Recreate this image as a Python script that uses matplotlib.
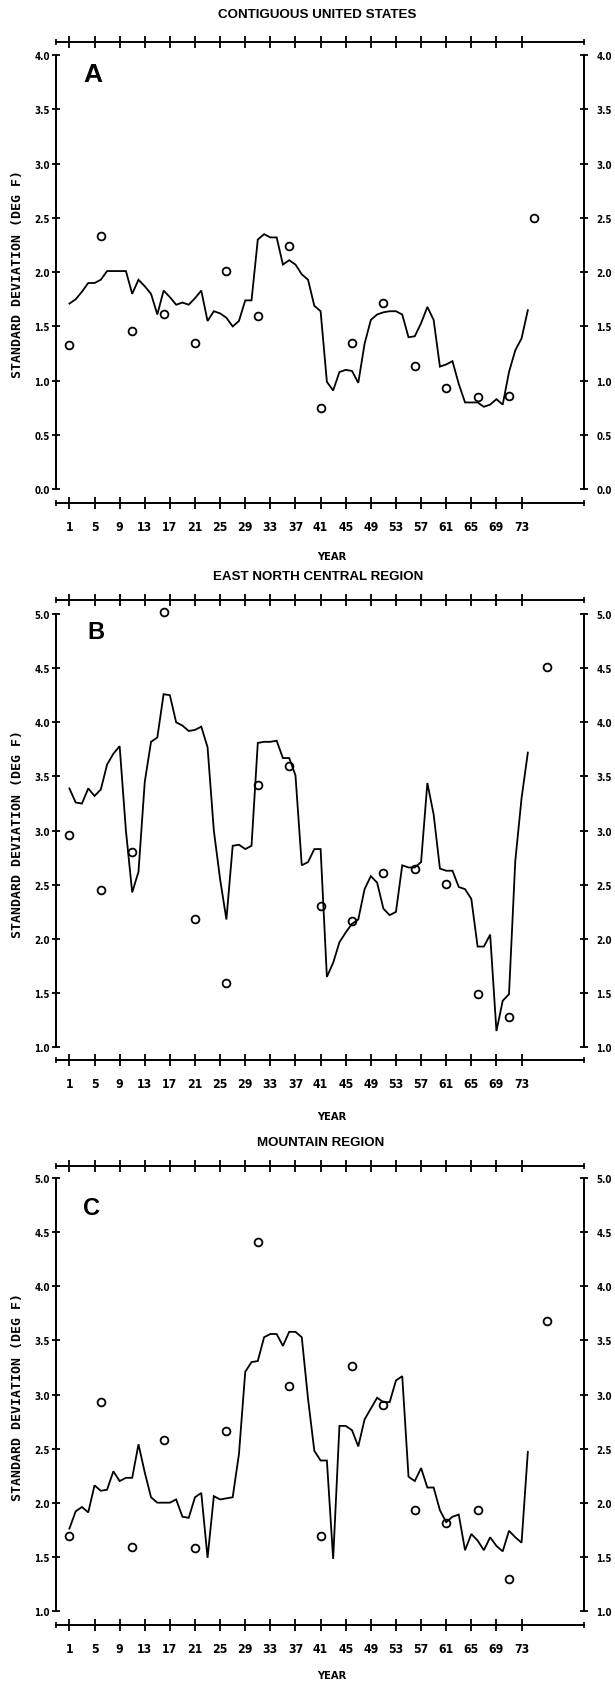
import matplotlib
matplotlib.use('Agg')
import matplotlib.pyplot as plt

W, H = 615, 1683
DPI = 100

# ---------------- data ----------------
years = list(range(1, 75))
tick_years = [1, 5, 9, 13, 17, 21, 25, 29, 33, 37, 41, 45, 49, 53, 57, 61, 65, 69, 73]

cont_line = [1.71, 1.75, 1.82, 1.90, 1.90, 1.93, 2.01, 2.01, 2.01, 2.01,
             1.80, 1.93, 1.87, 1.80, 1.61, 1.83, 1.77, 1.70, 1.72, 1.70,
             1.76, 1.83, 1.55, 1.64, 1.62, 1.58, 1.50, 1.55, 1.74, 1.74,
             2.30, 2.35, 2.32, 2.32, 2.07, 2.11, 2.07, 1.98, 1.93, 1.69,
             1.64, 0.99, 0.91, 1.08, 1.10, 1.09, 0.98, 1.34, 1.56, 1.61,
             1.63, 1.64, 1.64, 1.61, 1.40, 1.41, 1.53, 1.68, 1.56, 1.13,
             1.15, 1.18, 0.97, 0.80, 0.80, 0.80, 0.76, 0.78, 0.83, 0.78,
             1.08, 1.28, 1.39, 1.65]
cont_circle_x = [1, 6, 11, 16, 21, 26, 31, 36, 41, 46, 51, 56, 61, 66, 71, 75]
cont_circle = [1.33, 2.33, 1.46, 1.61, 1.35, 2.01, 1.60, 2.24,
               0.75, 1.35, 1.72, 1.14, 0.93, 0.85, 0.86, 2.50]

enc_line = [3.39, 3.26, 3.25, 3.39, 3.32, 3.38, 3.61, 3.71, 3.78, 3.00,
            2.43, 2.62, 3.45, 3.82, 3.86, 4.26, 4.25, 4.00, 3.97, 3.92,
            3.93, 3.96, 3.77, 3.00, 2.55, 2.18, 2.86, 2.87, 2.83, 2.86,
            3.81, 3.82, 3.82, 3.83, 3.67, 3.67, 3.51, 2.68, 2.71, 2.83,
            2.83, 1.65, 1.78, 1.97, 2.06, 2.14, 2.18, 2.46, 2.58, 2.52,
            2.28, 2.22, 2.25, 2.68, 2.66, 2.66, 2.71, 3.44, 3.15, 2.65,
            2.63, 2.63, 2.48, 2.46, 2.37, 1.93, 1.93, 2.04, 1.15, 1.43,
            1.49, 2.72, 3.30, 3.72]
enc_circle_x = [1, 6, 11, 16, 21, 26, 31, 36, 41, 46, 51, 56, 61, 66, 71, 77]
enc_circle = [2.96, 2.45, 2.80, 5.02, 2.18, 1.59, 3.42, 3.60,
              2.30, 2.17, 2.61, 2.65, 2.51, 1.49, 1.28, 4.51]

mtn_line = [1.76, 1.92, 1.96, 1.91, 2.16, 2.11, 2.12, 2.29, 2.20, 2.23,
            2.23, 2.54, 2.28, 2.05, 2.00, 2.00, 2.00, 2.03, 1.87, 1.86,
            2.05, 2.09, 1.49, 2.06, 2.03, 2.04, 2.05, 2.45, 3.21, 3.30,
            3.31, 3.53, 3.56, 3.56, 3.45, 3.58, 3.58, 3.53, 2.96, 2.48,
            2.39, 2.39, 1.48, 2.71, 2.71, 2.67, 2.52, 2.77, 2.87, 2.97,
            2.93, 2.93, 3.13, 3.17, 2.24, 2.20, 2.32, 2.14, 2.14, 1.93,
            1.82, 1.87, 1.89, 1.56, 1.71, 1.65, 1.56, 1.68, 1.60, 1.55,
            1.74, 1.68, 1.63, 2.47]
mtn_circle_x = [1, 6, 11, 16, 21, 26, 31, 36, 41, 46, 51, 56, 61, 66, 71, 77]
mtn_circle = [1.69, 2.93, 1.59, 2.58, 1.58, 2.66, 4.41, 3.08,
              1.69, 3.26, 2.90, 1.93, 1.81, 1.93, 1.29, 3.68]

a_yticks = [0.0, 0.5, 1.0, 1.5, 2.0, 2.5, 3.0, 3.5, 4.0]
bc_yticks = [1.0, 1.5, 2.0, 2.5, 3.0, 3.5, 4.0, 4.5, 5.0]

titles = ['CONTIGUOUS UNITED STATES', 'EAST NORTH CENTRAL REGION', 'MOUNTAIN REGION']
letters = ['A', 'B', 'C']
ylabel = 'STANDARD DEVIATION (DEG F)'
xlabel = 'YEAR'

# ---------------- layout (pixels) ----------------
LEFT, RIGHT = 56, 584
X_YR1, PX_PER_YR = 69.4, 6.28
xl = 1 - (X_YR1 - LEFT) / PX_PER_YR
xr = 1 + (RIGHT - X_YR1) / PX_PER_YR

panels = [
    dict(top=43, phi=56, plo=490.3, bot=504, vlo=0.0, vhi=4.0,
         line=cont_line, cx=cont_circle_x, cy=cont_circle, yt=a_yticks,
         title_xy=(317, 15), year_xy=(332, 557), ylab_y=274,
         letter_xy=(83, 82), letter_size=19),
    dict(top=601, phi=615, plo=1048.3, bot=1061, vlo=1.0, vhi=5.0,
         line=enc_line, cx=enc_circle_x, cy=enc_circle, yt=bc_yticks,
         title_xy=(318, 577), year_xy=(332, 1117), ylab_y=834,
         letter_xy=(87, 639), letter_size=17),
    dict(top=1167, phi=1179.3, plo=1611.8, bot=1626, vlo=1.0, vhi=5.0,
         line=mtn_line, cx=mtn_circle_x, cy=mtn_circle, yt=bc_yticks,
         title_xy=(321, 1143), year_xy=(332, 1676), ylab_y=1397,
         letter_xy=(83.5, 1215), letter_size=17),
]

fig = plt.figure(figsize=(W / DPI, H / DPI), dpi=DPI)
fig.patch.set_facecolor('white')

TICKFONT = dict(family='DejaVu Sans', stretch='condensed', weight='bold')


def fx(x):
    return x / W


def fy(y):
    return 1 - y / H


for i, p in enumerate(panels):
    rect = [fx(LEFT), fy(p['bot']), (RIGHT - LEFT) / W, (p['bot'] - p['top']) / H]
    ax = fig.add_axes(rect)
    scale = (p['plo'] - p['phi']) / (p['vhi'] - p['vlo'])
    ylo = p['vlo'] - (p['bot'] - p['plo']) / scale
    yhi = p['vhi'] + (p['phi'] - p['top']) / scale
    ax.set_xlim(xl, xr)
    ax.set_ylim(ylo, yhi)
    ax.set_facecolor('none')

    ax.plot(years, p['line'], color='black', lw=1.3, solid_joinstyle='miter')
    ax.plot(p['cx'], p['cy'], 'o', mfc='none', mec='black', ms=5.6, mew=1.3,
            clip_on=False)

    for s in ['top', 'bottom', 'left']:
        ax.spines[s].set_linewidth(1.4)
        ax.spines[s].set_color('black')
    ax.spines['right'].set_visible(False)
    ax.spines['left'].set_bounds(p['vlo'], p['vhi'])

    ax.set_xticks(tick_years)
    ax.set_xticklabels([str(t) for t in tick_years])
    ax.set_xticks([xl, xr], minor=True)
    ax.tick_params(axis='x', which='major', direction='inout', length=9, width=1.3,
                   top=True, bottom=True, labeltop=False, labelbottom=True,
                   pad=8, labelsize=8.5)
    ax.tick_params(axis='x', which='minor', direction='inout', length=5, width=1.2,
                   top=True, bottom=True)
    for lab in ax.get_xticklabels():
        lab.set_fontproperties(matplotlib.font_manager.FontProperties(size=8.8, **TICKFONT))

    ax.set_yticks(p['yt'])
    ax.set_yticklabels([f'{v:.1f}' for v in p['yt']])
    ax.tick_params(axis='y', direction='inout', length=6, width=1.3,
                   left=True, right=False, pad=1.5, labelsize=7)
    for lab in ax.get_yticklabels():
        lab.set_fontproperties(matplotlib.font_manager.FontProperties(size=7, **TICKFONT))

    ax2 = ax.twinx()
    ax2.set_ylim(ylo, yhi)
    for s in ['top', 'bottom', 'left']:
        ax2.spines[s].set_visible(False)
    ax2.spines['right'].set_linewidth(1.4)
    ax2.spines['right'].set_bounds(p['vlo'], p['vhi'])
    ax2.set_yticks(p['yt'])
    ax2.set_yticklabels([f'{v:.1f}' for v in p['yt']])
    ax2.tick_params(axis='y', direction='inout', length=6, width=1.3,
                    right=True, left=False, pad=6, labelsize=7)
    for lab in ax2.get_yticklabels():
        lab.set_fontproperties(matplotlib.font_manager.FontProperties(size=7, **TICKFONT))

    # texts
    tx, ty = p['title_xy']
    fig.text(fx(tx), fy(ty), titles[i], ha='center', va='center',
             family='Liberation Sans', weight='bold', fontsize=9.6)
    yx, yy = p['year_xy']
    fig.text(fx(yx), fy(yy), xlabel, ha='center', va='center',
             fontsize=8, **TICKFONT)
    fig.text(fx(18), fy(p['ylab_y']), ylabel, ha='center', va='center',
             rotation=90, family='DejaVu Sans Mono', weight='bold', fontsize=9.5)
    lx, ly = p['letter_xy']
    fig.text(fx(lx), fy(ly), letters[i], ha='left', va='baseline',
             family='Liberation Sans', weight='bold', fontsize=p['letter_size'])

fig.savefig('out.png', dpi=DPI, facecolor='white')
